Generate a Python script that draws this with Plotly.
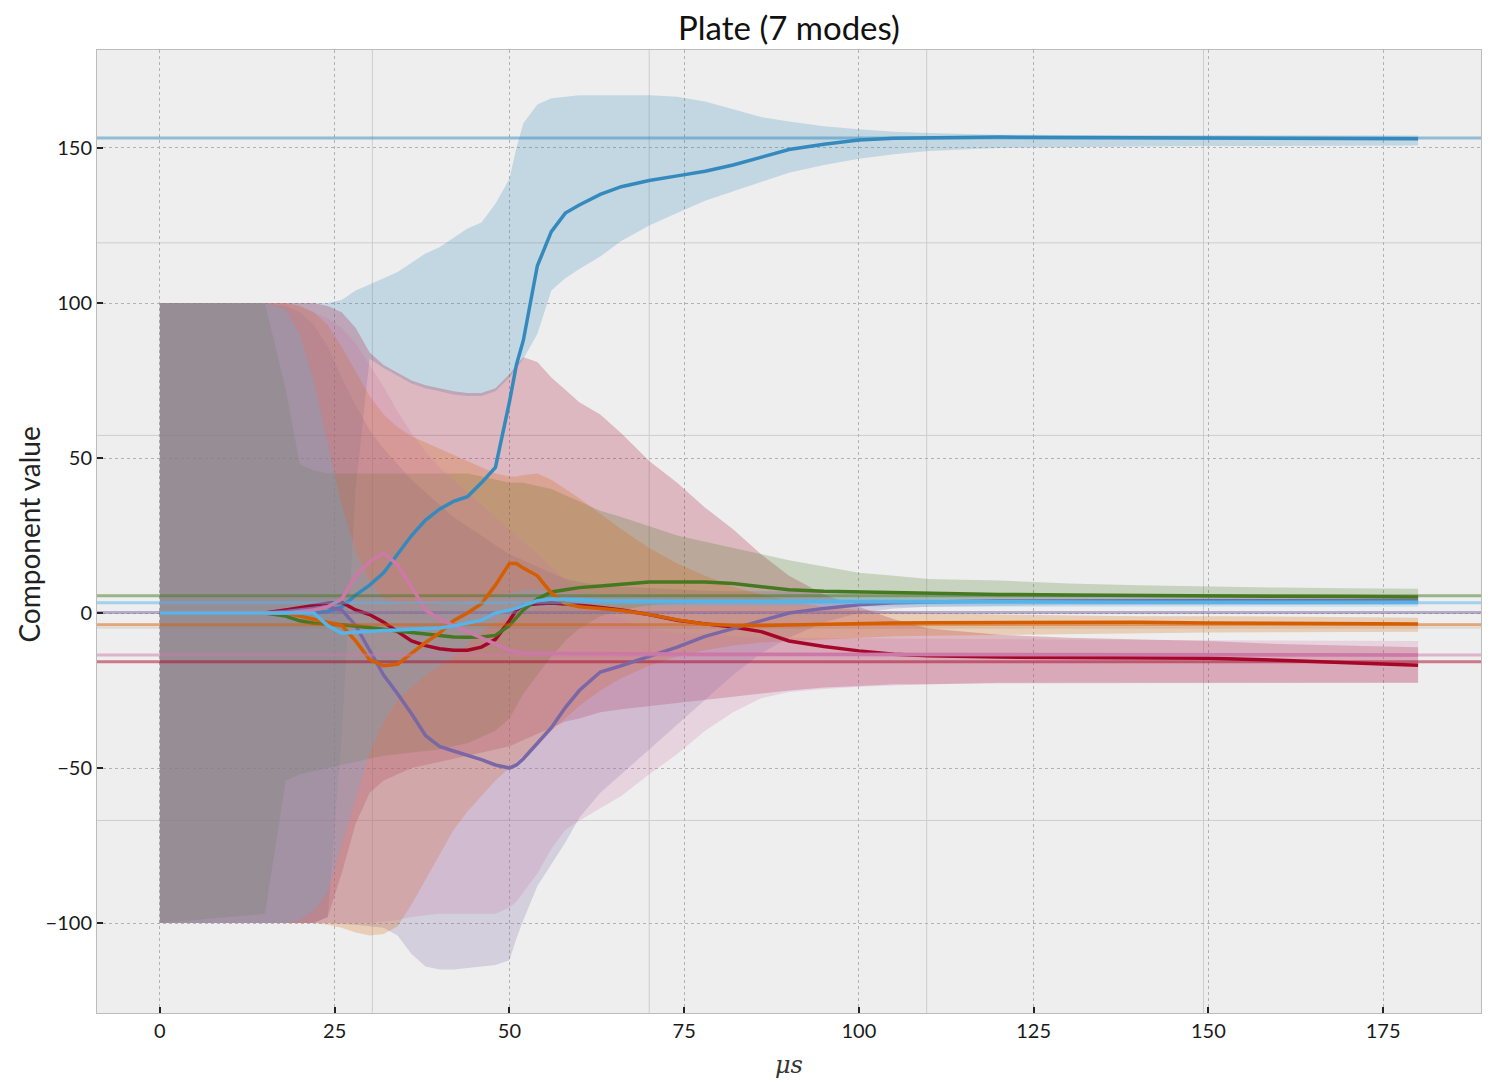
import plotly.graph_objects as go

# ---------------- data ----------------
T = [0, 15, 18, 20, 22, 24, 26, 28, 30, 32, 34, 36, 38, 40, 42, 44, 46, 48, 50, 51,
     52, 54, 56, 58, 60, 63, 66, 70, 74, 78, 82, 86, 90, 95, 100, 105, 110, 120, 130,
     140, 150, 160, 170, 180]

MODE_NAMES = ["mode 1", "mode 2", "mode 3", "mode 4", "mode 5", "mode 6", "mode 7"]
COLORS = ["#348ABD", "#A60628", "#7A68A6", "#467821", "#D55E00", "#CC79A7", "#56B4E9"]
TRUE_VALUES = [153.2, -15.7, 0.2, 5.6, -3.8, -13.5, 3.3]

blue_mean = [0, 0, 0, 0, 0, 0.5, 2, 5.8, 9, 13, 19, 25, 30, 33.5, 36, 37.5, 42, 47, 68, 80,
             88, 112, 123, 129, 131.6, 135, 137.5, 139.5, 141, 142.5, 144.5, 147, 149.5, 151.2,
             152.6, 153.1, 153.3, 153.5, 153.4, 153.3, 153.2, 153.2, 153.1, 153]
blue_upper = [100, 100, 100, 100, 100, 100, 101, 104, 106, 108, 110, 113, 116, 118, 121, 124,
              126, 132, 140, 150, 158, 164, 166, 166.5, 167, 167, 167, 167, 166.5, 165, 162.5,
              160, 158.5, 157, 156, 155.2, 154.8, 154.3, 154.2, 154.2, 154, 154, 154, 154]
blue_lower = [-100, -100, -100, -100, -100, -98, -40, 40, 82, 79, 76.5, 74, 72.5, 71.5, 70.5, 70,
              70, 71.5, 76, 79, 82, 90, 104, 108, 111, 115, 120, 125, 129, 133, 136, 139, 142,
              144.5, 146.5, 148, 149, 150, 150.3, 150.5, 150.6, 150.7, 150.8, 150.8]

red_mean = [0, 0, 1, 1.8, 2.5, 3.2, 3.5, 1, -0.5, -3, -6, -9, -10.5, -11.5, -12, -12, -11, -8.5,
            -2.5, 1, 2.5, 3, 3.2, 3, 2.6, 1.8, 1, -0.5, -2.3, -3.5, -4.5, -6, -9, -10.8, -12.2,
            -13.3, -13.8, -14.2, -14.3, -14.4, -14.6, -15.2, -16, -16.8]
red_upper = [100, 100, 100, 100, 100, 99, 97, 92, 84, 80, 77.5, 75, 73.5, 72.5, 71.5, 71, 71,
             72.5, 77, 80, 82.5, 81, 76, 72, 68, 64, 58, 49, 42, 34, 27, 19, 12, 6, 2, -2, -5,
             -7, -8, -8.5, -9, -10, -10.5, -11]
red_lower = [-100, -100, -100, -100, -100, -98, -84, -68, -58, -54, -52, -50, -49, -48, -47, -46,
             -45, -44, -43, -42, -41, -39, -37, -35, -34, -32, -31, -30, -29, -28, -27, -26, -25,
             -24, -23.5, -23, -23, -22.5, -22.5, -22.5, -22.5, -22.5, -22.5, -22.5]

purple_mean = [0, 0, 0.5, 1, 1.5, 2, 1, -4, -12, -20, -26, -32.5, -39.5, -43, -44.5, -45.8, -47.3,
               -49, -50, -49, -47, -42, -37, -30.5, -25, -19, -17, -14, -11, -7.5, -5, -2.5, 0,
               1.5, 2.7, 3.3, 3.6, 3.9, 4, 4, 4, 4, 4, 4]
purple_upper = [100, 100, 99, 97, 93, 86, 76, 67, 59, 53, 48, 43, 39, 35, 31, 28, 25, 22, 19, 18,
                17, 15, 13, 11, 10, 9, 8.5, 8, 7.5, 7.2, 7, 7, 7, 7, 6.5, 6.3, 6, 6, 5.8, 5.7,
                5.6, 5.5, 5.5, 5.5]
purple_lower = [-100, -100, -100, -100, -100, -100, -100.3, -100.5, -101, -101.5, -104, -110,
                -114, -115, -115, -114.5, -114, -113.5, -112, -105, -99, -88, -81, -74, -66, -58,
                -52, -44, -36, -28, -20, -13, -8, -3, 0, 1.5, 2, 2.3, 2.5, 2.6, 2.7, 2.7, 2.7, 2.7]

green_mean = [0, 0, -1, -2.5, -3.3, -3.5, -3.8, -4.2, -4.6, -5.2, -5.8, -6.3, -6.8, -7.3, -7.7,
              -7.8, -7.7, -7.2, -4, -1.5, 1, 4.5, 6.8, 7.5, 8.2, 8.7, 9.2, 10, 10, 10, 9.5, 8.5,
              7.5, 7, 6.8, 6.5, 6.3, 6, 5.8, 5.6, 5.5, 5.4, 5.3, 5.2]
green_upper = [100, 100, 72, 48, 46, 45, 45, 45, 45, 45, 45, 45, 45, 45, 45, 45, 44, 43, 42, 42,
               42, 41, 40, 38, 36, 33, 31, 28, 25, 23, 21, 19, 17, 15, 13, 12, 11, 10.5, 9.5, 9,
               8.5, 8.2, 8, 7.8]
green_lower = [-100, -97, -54, -52, -51, -50, -49, -48, -47, -46, -45.5, -45, -44.5, -44, -43,
               -42, -40, -38, -34, -30, -26, -20, -14, -9, -5, -1, 1, 2.5, 3, 3.2, 3.3, 3.3, 3.3,
               3.3, 3.3, 3.3, 3.3, 3.3, 3.3, 3.2, 3.2, 3.2, 3.2, 3.2]

orange_mean = [0, 0, 0, -1, -2, -3, -4, -9, -15, -17, -16.5, -13, -9.5, -6.5, -2.5, 0, 3, 9, 16,
               16, 14.5, 12, 6.5, 3, 2, 1.5, 0.8, -0.5, -2.2, -3.5, -4, -4, -3.8, -3.5, -3.3, -3.2,
               -3.1, -3, -3, -3, -3.2, -3.3, -3.4, -3.5]
orange_upper = [100, 100, 100, 99, 97, 93, 86, 78, 70, 64, 60, 57, 55, 53, 51, 49, 47, 45, 44, 44,
                44.5, 45, 43, 40, 37, 32, 27, 21, 16, 12, 8.5, 6, 4, 2, 1, 0.5, 0, -0.5, -0.8, -1,
                -1, -1.2, -1.3, -1.5]
orange_lower = [-100, -100, -100, -100, -100, -100.5, -101.5, -103, -104, -103.5, -101, -94, -86,
                -78, -70, -64, -59, -54, -50, -48, -46, -42, -38, -34, -30, -25, -21, -17, -14,
                -12, -10.5, -9.5, -9, -8.5, -8, -7.5, -7.3, -7, -6.8, -6.5, -6.3, -6.2, -6, -6]

pink_mean = [0, 0, 0, 0.5, 1, 2, 4.5, 12, 16.5, 19.4, 15.5, 8.5, 1, -2, -4, -6, -8, -10, -12,
             -12.5, -13, -13, -13, -13, -13, -13, -13.1, -13.2, -13.2, -13.3, -13.3, -13.4, -13.4,
             -13.4, -13.5, -13.5, -13.5, -13.5, -13.5, -13.5, -13.5, -13.5, -13.5, -13.5]
pink_upper = [100, 100, 100, 99, 97, 95, 92, 87, 80, 73, 65, 58, 52, 47, 43, 39, 35, 31, 27, 25,
              23, 19, 15, 11, 7, 2, -2, -5, -6.5, -7, -7.5, -8, -8, -8, -8, -8.2, -8.3, -8.5,
              -8.6, -8.7, -8.8, -8.9, -9, -9]
pink_lower = [-100, -100, -100, -100, -100, -100, -100, -100, -100, -99.5, -99, -98, -97.5, -97,
              -97, -97, -97, -97, -95, -93, -90, -84, -76, -70, -67, -63, -59, -52, -45.5, -38,
              -32, -27.5, -25.5, -24.5, -23.8, -23.3, -23, -22.7, -22.6, -22.5, -22.5, -22.5,
              -22.5, -22.5]

lightblue_mean = [0, 0, 0, 0, 0, -4, -6.5, -6.2, -5.8, -5.6, -5.5, -5.3, -5, -4.8, -4.2, -3.3,
                  -2.3, 0, 1, 1.5, 2.5, 4, 4.5, 4.5, 4.3, 4, 3.9, 3.8, 3.8, 3.8, 3.8, 3.8, 3.7,
                  3.7, 3.7, 3.6, 3.6, 3.6, 3.6, 3.5, 3.5, 3.5, 3.5, 3.5]
lightblue_upper = [100, 100, 98, 90, 75, 55, 35, 20, 10, 5, 3, 2.5, 2.5, 2.8, 3, 3.5, 4, 5.5, 6.5,
                   7, 7.5, 7.5, 7, 6.5, 6.3, 6, 5.8, 5.6, 5.5, 5.4, 5.3, 5.2, 5.2, 5.1, 5.1, 5,
                   5, 5, 5, 5, 5, 5, 5, 5]
lightblue_lower = [-100, -100, -100, -99, -96, -90, -75, -60, -45, -35, -28, -24, -20, -17, -14,
                   -10, -6, -3, -1, 0, 0.5, 1.5, 2, 2.1, 2.2, 2.2, 2.2, 2.2, 2.1, 2.1, 2.1, 2.1,
                   2.1, 2.1, 2, 2, 2, 2, 2, 2, 2, 2, 2, 2]

MEANS = [blue_mean, red_mean, purple_mean, green_mean, orange_mean, pink_mean, lightblue_mean]
UPPERS = [blue_upper, red_upper, purple_upper, green_upper, orange_upper, pink_upper, lightblue_upper]
LOWERS = [blue_lower, red_lower, purple_lower, green_lower, orange_lower, pink_lower, lightblue_lower]

X_TICKS = [0, 25, 50, 75, 100, 125, 150, 175]
Y_TICKS = [-100, -50, 0, 50, 100, 150]
X_RANGE = [-9, 189]
Y_RANGE = [-129, 181.6]
# light solid grid lines of a second, offset grid seen in the reference
X_GRID2 = [30.4, 70.0, 109.7, 149.3]
Y_GRID2 = [119.4, 57.3, -4.8, -66.9]

TITLE = "Plate (7 modes)"
X_LABEL = "<i>μs</i>"
Y_LABEL = "Component value"


def rgba(hex_color, a):
    h = hex_color.lstrip("#")
    r, g, b = int(h[0:2], 16), int(h[2:4], 16), int(h[4:6], 16)
    return f"rgba({r},{g},{b},{a})"


fig = go.Figure()

# shaded bands (all patches below all lines, as in matplotlib)
for name, col, up, lo in zip(MODE_NAMES, COLORS, UPPERS, LOWERS):
    fig.add_trace(go.Scatter(
        x=T + T[::-1], y=up + lo[::-1], fill="toself", fillcolor=rgba(col, 0.23),
        mode="lines", line=dict(width=0), hoverinfo="skip", showlegend=False, name=name))

# mean lines and true-value horizontal lines
for name, col, m, tv in zip(MODE_NAMES, COLORS, MEANS, TRUE_VALUES):
    fig.add_trace(go.Scatter(x=T, y=m, mode="lines", line=dict(color=col, width=3.5),
                             showlegend=False, name=name))
    fig.add_trace(go.Scatter(x=X_RANGE, y=[tv, tv], mode="lines",
                             line=dict(color=rgba(col, 0.5), width=3),
                             showlegend=False, hoverinfo="skip", name=name + " true"))

shapes = []
for xv in X_GRID2:
    shapes.append(dict(type="line", xref="x", yref="paper", x0=xv, x1=xv, y0=0, y1=1,
                       line=dict(color="#cdcdcd", width=1), layer="below"))
for yv in Y_GRID2:
    shapes.append(dict(type="line", xref="paper", yref="y", x0=0, x1=1, y0=yv, y1=yv,
                       line=dict(color="#cdcdcd", width=1), layer="below"))

# the page body adds an 8px offset, so the figure is sized to fit the window
W, H = 1488, 1074
FONT = "Lato"
fig.update_layout(
    width=W, height=H,
    margin=dict(l=89, r=15, t=42, b=69),
    paper_bgcolor="white", plot_bgcolor="#eeeeee",
    font=dict(family=FONT, color="#222222"),
    title=dict(text=TITLE, x=0.5, xref="paper", y=1 - 20 / H, yref="container",
               xanchor="center", yanchor="middle", font=dict(size=33, color="#111111")),
    shapes=shapes,
    showlegend=False,
    annotations=[
        dict(text=Y_LABEL, xref="paper", yref="paper", x=-0.049, y=0.497, showarrow=False,
             textangle=-90, font=dict(size=28, color="#222222"), xanchor="center", yanchor="middle"),
        dict(text=X_LABEL, xref="paper", yref="paper", x=0.5, y=-0.054, showarrow=False,
             font=dict(size=24, family="DejaVu Serif", color="#333333"),
             xanchor="center", yanchor="middle"),
    ],
)
fig.update_xaxes(range=X_RANGE, tickvals=X_TICKS, ticks="inside", ticklen=6, tickwidth=1.5,
                 tickcolor="#222222", showline=True, linecolor="#bcbcbc", linewidth=1, mirror=True,
                 showgrid=True, gridcolor="#b2b2b2", griddash="dot", gridwidth=1, zeroline=False,
                 tickfont=dict(size=20, family=FONT, color="#1a1a1a"))
fig.update_yaxes(range=Y_RANGE, tickvals=Y_TICKS, ticks="inside", ticklen=6, tickwidth=1.5,
                 tickcolor="#222222", showline=True, linecolor="#bcbcbc", linewidth=1, mirror=True,
                 showgrid=True, gridcolor="#b2b2b2", griddash="dot", gridwidth=1, zeroline=False,
                 tickfont=dict(size=20, family=FONT, color="#1a1a1a"),
                 tickformat="d")

fig.write_html("out.html")
